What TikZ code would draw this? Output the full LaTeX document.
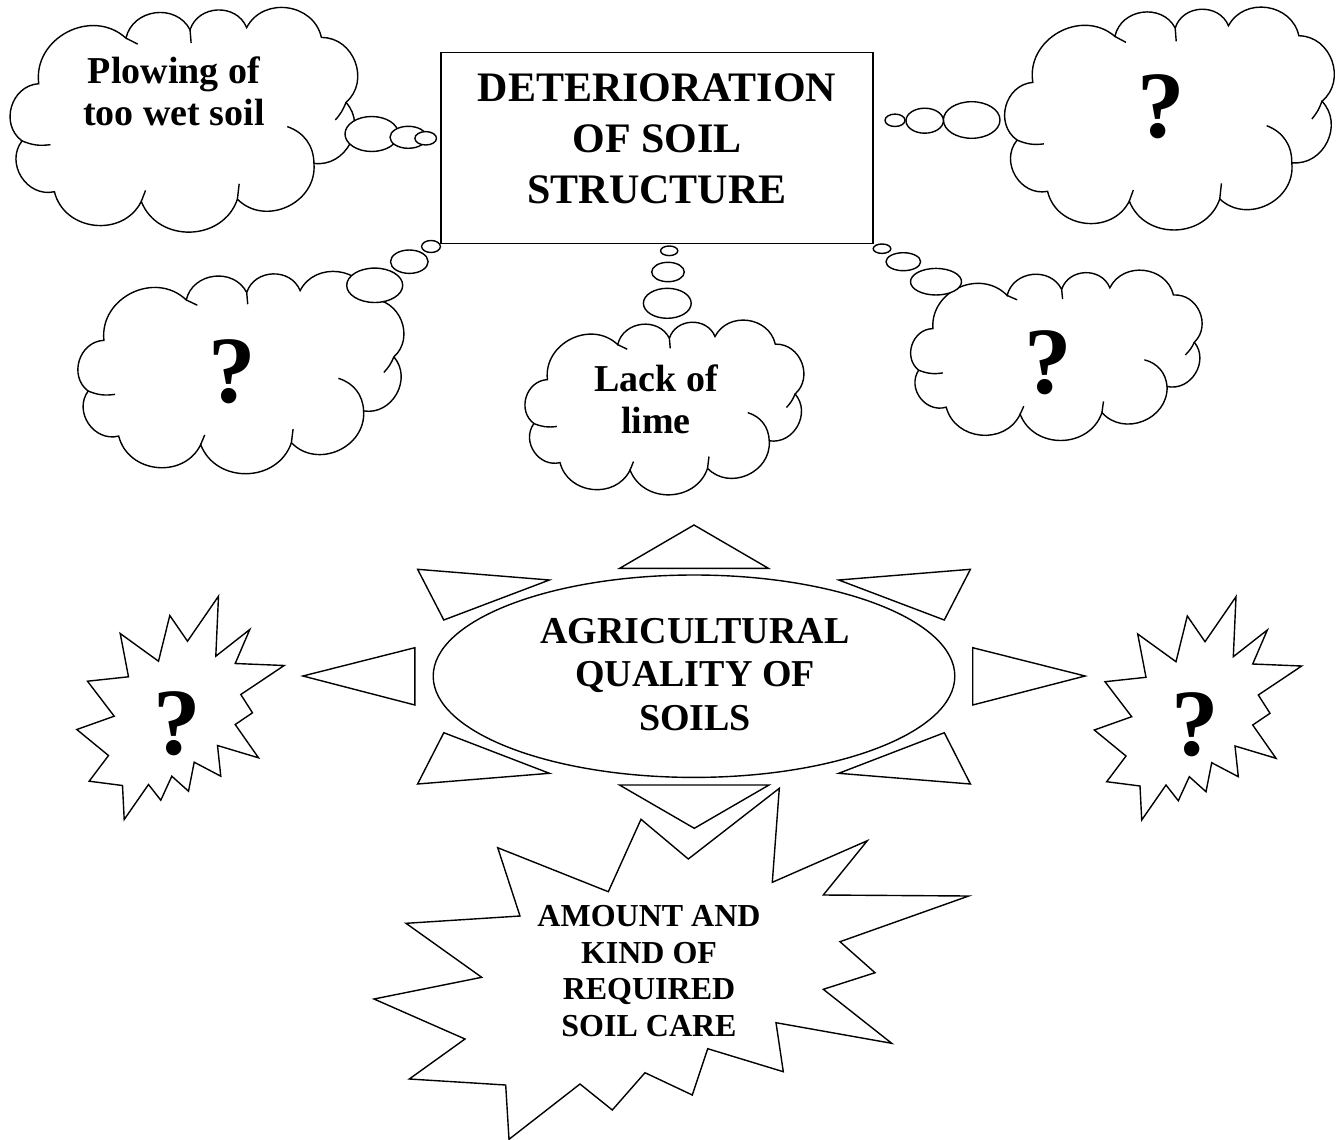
\documentclass[tikz,border=0pt]{standalone}
\usepackage{fontspec}
\setmainfont{Liberation Serif}
\usetikzlibrary{shapes.geometric}

\tikzset{
  outline/.style={draw=black, line width=1.4pt, fill=white, line join=miter},
  stubline/.style={draw=black, line width=1.4pt},
  puff/.style={bend right=70, looseness=1.2},
  bubble/.style={draw=black, line width=1.4pt, fill=white, ellipse, inner sep=0pt},
  txt/.style={font=\bfseries, align=center, inner sep=0pt},
  qmark/.style={inner sep=0pt, font=\bfseries\fontsize{95}{100}\selectfont},
}

% thought cloud fitted into the box with top-left corner (#1,#2), width #3, height #4
\newcommand\soilcloud[4]{%
  \begin{scope}[shift={(#1,#2)}, x={(#3pt,0pt)}, y={(0pt,-#4pt)}]
    \draw[outline] (0.045,0.595) to[puff] (0.136,0.826) to[puff] (0.38,0.87)
      to[puff] (0.65,0.86) to[puff] (0.865,0.697) to[puff] (0.955,0.42)
      to[puff] (0.886,0.125) to[puff] (0.676,0.08) to[puff] (0.517,0.09)
      to[puff] (0.337,0.128) to[puff] (0.092,0.335) to[puff] cycle;
    \draw[stubline] (0.045,0.595) to[bend right=15] (0.125,0.612);
    \draw[stubline] (0.865,0.697) to[bend right=35] (0.79,0.53);
    \draw[stubline] (0.955,0.42) to[bend left=10] (0.925,0.50);
    \draw[stubline] (0.65,0.86) -- (0.655,0.79);
    \draw[stubline] (0.38,0.87) -- (0.392,0.82);
    \draw[stubline] (0.517,0.09) -- (0.52,0.15);
    \draw[stubline] (0.337,0.128) -- (0.37,0.155);
  \end{scope}}

% jagged burst centred on (#1,#2)
\newcommand\soilburst[2]{%
  \begin{scope}[shift={(#1,#2)}]
    \draw[outline] (41,-128.3) -- (38.3,-68.3) -- (72.3,-95) -- (57.7,-61)
      -- (106.7,-59) -- (63.3,-30) -- (75,-11.7) -- (57.7,0) -- (81,33.3)
      -- (40,21) -- (43.3,51.7) -- (16.7,37.7) -- (11,66.7) -- (-5.7,51.7)
      -- (-16.7,75.7) -- (-29,60) -- (-53.3,95) -- (-55,61) -- (-88.3,56.7)
      -- (-69,31) -- (-100.7,5) -- (-63.3,-8.3) -- (-90,-43.3) -- (-49,-47.7)
      -- (-57.3,-91) -- (-19,-63.3) -- (-7.7,-109) -- (10,-83.3) -- cycle;
  \end{scope}}

\begin{document}
\begin{tikzpicture}[x=1pt, y=-1pt]
  \fill[white] (0,0) rectangle (1341,1140);
  \useasboundingbox (0,0) rectangle (1341,1140);

  % rays around the central ellipse
  \draw[outline] (694,525) -- (768.4,568.3) -- (619.7,568.3) -- cycle;
  \draw[outline] (417.6,569.3) -- (549.4,580) -- (443.8,620) -- cycle;
  \draw[outline] (970.4,569.3) -- (838.7,580) -- (944.3,620) -- cycle;
  \draw[outline] (302.9,676) -- (414.9,647.7) -- (414.9,705) -- cycle;
  \draw[outline] (1085.1,676) -- (972.7,647.7) -- (972.7,705) -- cycle;
  \draw[outline] (443.8,732.7) -- (549.4,773.3) -- (417.6,784) -- cycle;
  \draw[outline] (944.3,732.7) -- (838.7,773.3) -- (970.4,784) -- cycle;
  \draw[outline] (619.5,785) -- (769,785) -- (694.3,828.3) -- cycle;

  % central ellipse
  \node[outline, ellipse, minimum width=521.6pt, minimum height=202.4pt, inner sep=0pt]
    (qualityshape) at (694,676.2) {};
  \node[txt, font=\bfseries\fontsize{38}{43.7}\selectfont] (quality) at (695,674.4)
    {AGRICULTURAL\\QUALITY OF\\SOILS};

  % side bursts
  \soilburst{177.5}{724.5}
  \soilburst{1195}{725}
  \node[qmark] (qleft) at (177.5,724.2) {?};
  \node[qmark] (qright) at (1195,725) {?};

  % bottom burst
  \draw[outline] (779.3,788.3) -- (772.3,882.3) -- (867.3,840.7) -- (823.3,895)
    -- (968.7,896) -- (840,941.7) -- (875,972.7) -- (823.3,989.3)
    -- (891.7,1043.3) -- (776,1022.7) -- (783.3,1071.7) -- (707.7,1048.7)
    -- (692.3,1095) -- (645,1072.7) -- (612.3,1110) -- (580,1084)
    -- (509,1139.3) -- (505.7,1085) -- (409.3,1079) -- (465,1039)
    -- (374,999) -- (481.7,977.3) -- (406,923.3) -- (520,916)
    -- (497.7,847.7) -- (608.3,891.7) -- (641,819.3) -- (688.3,859) -- cycle;
  \node[txt, font=\bfseries\fontsize{32}{36.7}\selectfont] (care) at (649,971)
    {AMOUNT AND\\KIND OF\\REQUIRED\\SOIL CARE};

  % thought clouds
  \soilcloud{6}{10}{356}{220}
  \soilcloud{1002}{8}{335}{222}
  \soilcloud{73}{275}{336}{195}
  \soilcloud{905}{275}{303}{160}
  \soilcloud{521}{323}{287}{169}

  % cloud tails
  \node[bubble, minimum width=53.4pt, minimum height=35pt] (t1a) at (371.7,134) {};
  \node[bubble, minimum width=36.6pt, minimum height=22pt] (t1b) at (408.3,137.3) {};
  \node[bubble, minimum width=21.6pt, minimum height=13.4pt] (t1c) at (425.7,138.3) {};

  \node[bubble, minimum width=56.6pt, minimum height=36.6pt] (t2a) at (971.7,120) {};
  \node[bubble, minimum width=37.4pt, minimum height=25pt] (t2b) at (924.7,120.7) {};
  \node[bubble, minimum width=20pt, minimum height=12.4pt] (t2c) at (895,120.3) {};

  \node[bubble, minimum width=56pt, minimum height=34.4pt] (t3a) at (374.7,285.3) {};
  \node[bubble, minimum width=37.6pt, minimum height=23.4pt] (t3b) at (409.3,261.7) {};
  \node[bubble, minimum width=18.8pt, minimum height=12pt] (t3c) at (431,246.5) {};

  \node[bubble, minimum width=51pt, minimum height=26.6pt] (t4a) at (936,281.7) {};
  \node[bubble, minimum width=34.6pt, minimum height=18pt] (t4b) at (903.3,261.7) {};
  \node[bubble, minimum width=17.6pt, minimum height=9.4pt] (t4c) at (882,248.7) {};

  \node[bubble, minimum width=47.8pt, minimum height=30pt] (t5a) at (667.3,303.3) {};
  \node[bubble, minimum width=32.6pt, minimum height=19.4pt] (t5b) at (668,272) {};
  \node[bubble, minimum width=17.2pt, minimum height=9.6pt] (t5c) at (669.2,250.8) {};

  % cloud texts
  \node[txt, font=\bfseries\fontsize{38}{41.7}\selectfont] (plowing) at (174,91.5)
    {Plowing of\\too wet soil};
  \node[qmark] (qtopright) at (1160.8,106.7) {?};
  \node[qmark] (qmidleft) at (232.2,371.7) {?};
  \node[qmark] (qmidright) at (1048.7,362.5) {?};
  \node[txt, font=\bfseries\fontsize{38}{41.6}\selectfont] (lime) at (656,399.5)
    {Lack of\\lime};

  % title box
  \node[outline, rectangle, minimum width=432pt, minimum height=191pt, inner sep=0pt]
    (titlebox) at (657,148) {};
  \node[txt, font=\bfseries\fontsize{42}{50.8}\selectfont] (title) at (657,138.6)
    {DETERIORATION\\OF SOIL\\STRUCTURE};
\end{tikzpicture}
\end{document}
